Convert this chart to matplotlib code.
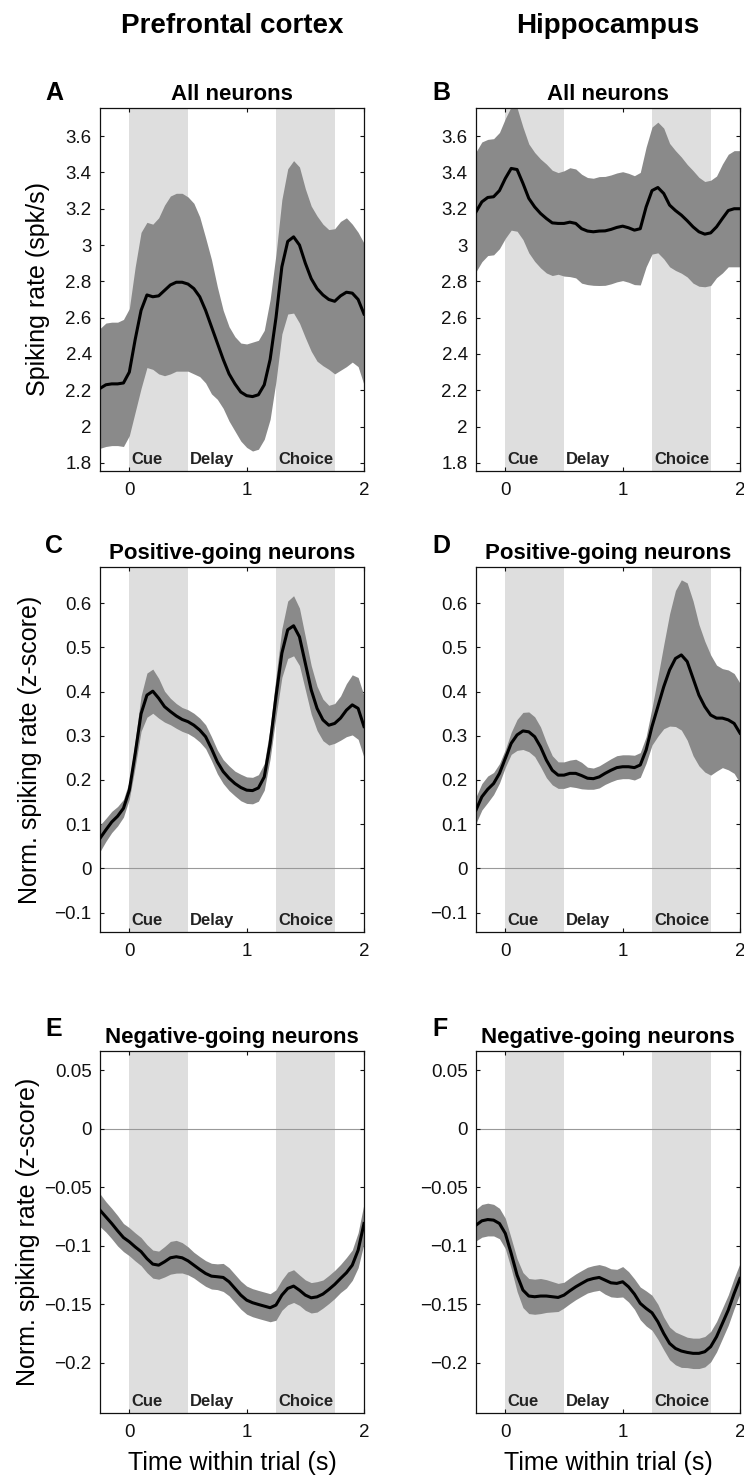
import numpy as np
import matplotlib
matplotlib.use('Agg')
import matplotlib.pyplot as plt
from matplotlib.ticker import FuncFormatter
import matplotlib.transforms as mtransforms

plt.rcParams['font.family'] = ['Liberation Sans', 'DejaVu Sans']

# time axis of the smoothed traces (s)
t = np.linspace(-0.25, 2.0, 46)

# A - prefrontal, all neurons (spk/s)
pfc_all_mean = [2.21, 2.23, 2.235, 2.235, 2.24, 2.30, 2.48, 2.64, 2.725, 2.715,
                2.72, 2.75, 2.78, 2.795, 2.795, 2.785, 2.76, 2.715, 2.64, 2.55,
                2.46, 2.37, 2.29, 2.235, 2.19, 2.17, 2.165, 2.175, 2.23, 2.37,
                2.60, 2.88, 3.02, 3.045, 3.0, 2.90, 2.815, 2.76, 2.725, 2.70,
                2.69, 2.72, 2.74, 2.735, 2.70, 2.62]
pfc_all_sem = [0.33, 0.34, 0.34, 0.34, 0.35, 0.35, 0.40, 0.43, 0.40, 0.40,
               0.43, 0.47, 0.49, 0.49, 0.49, 0.48, 0.47, 0.44, 0.40, 0.37,
               0.31, 0.27, 0.26, 0.26, 0.27, 0.285, 0.30, 0.30, 0.30, 0.33,
               0.35, 0.37, 0.40, 0.42, 0.43, 0.41, 0.40, 0.40, 0.39, 0.385,
               0.40, 0.41, 0.41, 0.38, 0.37, 0.39]

# B - hippocampus, all neurons (spk/s)
hpc_all_mean = [3.183, 3.238, 3.262, 3.266, 3.30, 3.367, 3.422, 3.416, 3.34, 3.257,
                3.21, 3.174, 3.146, 3.122, 3.119, 3.119, 3.126, 3.119, 3.09, 3.077,
                3.073, 3.077, 3.078, 3.086, 3.097, 3.104, 3.095, 3.082, 3.09, 3.21,
                3.30, 3.317, 3.284, 3.22, 3.19, 3.165, 3.134, 3.10, 3.073, 3.06,
                3.067, 3.10, 3.146, 3.19, 3.20, 3.20]
hpc_all_sem = [0.33, 0.33, 0.32, 0.32, 0.32, 0.33, 0.34, 0.34, 0.31, 0.30,
               0.30, 0.30, 0.30, 0.29, 0.28, 0.29, 0.30, 0.30, 0.30, 0.295,
               0.295, 0.30, 0.30, 0.30, 0.30, 0.30, 0.30, 0.30, 0.31, 0.33,
               0.35, 0.36, 0.36, 0.34, 0.33, 0.32, 0.31, 0.31, 0.30, 0.29,
               0.29, 0.28, 0.30, 0.31, 0.32, 0.32]

# C - prefrontal, positive-going (z-score)
pfc_pos_mean = [0.068, 0.087, 0.105, 0.118, 0.136, 0.177, 0.26, 0.35, 0.392, 0.401,
                0.385, 0.366, 0.355, 0.345, 0.337, 0.332, 0.324, 0.313, 0.298, 0.271,
                0.241, 0.219, 0.204, 0.192, 0.183, 0.177, 0.176, 0.182, 0.207, 0.283,
                0.389, 0.487, 0.54, 0.549, 0.524, 0.464, 0.404, 0.362, 0.336, 0.324,
                0.328, 0.34, 0.358, 0.37, 0.362, 0.321]
pfc_pos_sem = [0.03, 0.026, 0.024, 0.022, 0.02, 0.02, 0.03, 0.04, 0.05, 0.05,
               0.045, 0.035, 0.03, 0.028, 0.027, 0.027, 0.027, 0.027, 0.027, 0.027,
               0.027, 0.027, 0.028, 0.028, 0.03, 0.03, 0.03, 0.03, 0.03, 0.035,
               0.045, 0.055, 0.065, 0.068, 0.065, 0.06, 0.055, 0.05, 0.047, 0.045,
               0.045, 0.05, 0.06, 0.068, 0.07, 0.07]

# D - hippocampus, positive-going (z-score)
hpc_pos_mean = [0.132, 0.162, 0.179, 0.192, 0.215, 0.249, 0.283, 0.302, 0.311, 0.309,
                0.298, 0.275, 0.245, 0.222, 0.211, 0.211, 0.215, 0.215, 0.210, 0.204,
                0.203, 0.207, 0.215, 0.222, 0.228, 0.23, 0.23, 0.228, 0.234, 0.268,
                0.321, 0.366, 0.411, 0.449, 0.475, 0.483, 0.468, 0.43, 0.392, 0.366,
                0.347, 0.34, 0.34, 0.336, 0.328, 0.306]
hpc_pos_sem = [0.03, 0.03, 0.03, 0.025, 0.022, 0.02, 0.025, 0.035, 0.042, 0.045,
               0.045, 0.045, 0.04, 0.033, 0.03, 0.03, 0.03, 0.032, 0.03, 0.025,
               0.024, 0.025, 0.025, 0.026, 0.027, 0.027, 0.027, 0.028, 0.028, 0.03,
               0.042, 0.067, 0.095, 0.127, 0.154, 0.17, 0.178, 0.175, 0.16, 0.148,
               0.136, 0.12, 0.112, 0.113, 0.113, 0.113]

# E - prefrontal, negative-going (z-score)
pfc_neg_mean = [-0.0696, -0.0753, -0.081, -0.0872, -0.093, -0.0966, -0.101, -0.105, -0.111, -0.1157,
                -0.1166, -0.1137, -0.1103, -0.1094, -0.1103, -0.1129, -0.1166, -0.1203, -0.1237, -0.126,
                -0.1265, -0.1271, -0.1308, -0.1365, -0.1422, -0.1465, -0.1487, -0.1502, -0.1516, -0.153,
                -0.1507, -0.1422, -0.1365, -0.1345, -0.138, -0.1422, -0.1445, -0.1437, -0.1413, -0.1374,
                -0.1331, -0.128, -0.1231, -0.1166, -0.1038, -0.081]
pfc_neg_sem = [0.014, 0.013, 0.013, 0.013, 0.012, 0.012, 0.012, 0.012, 0.012, 0.012,
               0.012, 0.013, 0.014, 0.014, 0.013, 0.012, 0.011, 0.011, 0.011, 0.011,
               0.011, 0.012, 0.012, 0.012, 0.012, 0.012, 0.012, 0.012, 0.012, 0.012,
               0.013, 0.013, 0.014, 0.014, 0.013, 0.013, 0.013, 0.013, 0.012, 0.012,
               0.012, 0.012, 0.013, 0.013, 0.015, 0.017]

# F - hippocampus, negative-going (z-score)
hpc_neg_mean = [-0.0824, -0.0787, -0.0776, -0.0781, -0.081, -0.0895, -0.1066, -0.1251, -0.1379, -0.143,
                -0.1436, -0.143, -0.143, -0.1436, -0.1442, -0.1422, -0.1385, -0.1351, -0.1322, -0.1294,
                -0.128, -0.1271, -0.1294, -0.1317, -0.1322, -0.1308, -0.1351, -0.1413, -0.1493, -0.1536,
                -0.1573, -0.165, -0.175, -0.1835, -0.1878, -0.19, -0.1912, -0.192, -0.192, -0.1906,
                -0.1863, -0.1778, -0.1664, -0.155, -0.1408, -0.128]
hpc_neg_sem = [0.0135, 0.014, 0.014, 0.0135, 0.013, 0.013, 0.013, 0.014, 0.015, 0.015,
               0.015, 0.015, 0.014, 0.013, 0.012, 0.011, 0.011, 0.011, 0.011, 0.011,
               0.011, 0.011, 0.012, 0.012, 0.012, 0.013, 0.013, 0.013, 0.014, 0.015,
               0.015, 0.015, 0.014, 0.014, 0.014, 0.014, 0.013, 0.013, 0.013, 0.013,
               0.013, 0.013, 0.013, 0.013, 0.013, 0.013]

column_titles = ['Prefrontal cortex', 'Hippocampus']
row_titles = ['All neurons', 'Positive-going neurons', 'Negative-going neurons']
panel_letters = [['A', 'B'], ['C', 'D'], ['E', 'F']]
row_ylabels = ['Spiking rate (spk/s)', 'Norm. spiking rate (z-score)', 'Norm. spiking rate (z-score)']
row_ylims = [(1.755, 3.755), (-0.144, 0.682), (-0.243, 0.0665)]
row_yticks = [[1.8, 2, 2.2, 2.4, 2.6, 2.8, 3, 3.2, 3.4, 3.6],
              [-0.1, 0, 0.1, 0.2, 0.3, 0.4, 0.5, 0.6],
              [-0.2, -0.15, -0.1, -0.05, 0, 0.05]]
epochs = [('Cue', 0.0, 0.5), ('Delay', 0.5, 1.25), ('Choice', 1.25, 1.75)]

traces = [[(pfc_all_mean, pfc_all_sem), (hpc_all_mean, hpc_all_sem)],
          [(pfc_pos_mean, pfc_pos_sem), (hpc_pos_mean, hpc_pos_sem)],
          [(pfc_neg_mean, pfc_neg_sem), (hpc_neg_mean, hpc_neg_sem)]]

W, H = 744, 1475
col_left = [100, 476]
row_top = [108, 567, 1051]
row_h = [363, 365, 362]
ax_w = 264
ylabel_x = [-0.189, -0.22, -0.227]


def matlab_fmt(v, pos):
    if abs(v) < 1e-9:
        return '0'
    return f'{round(v, 6):g}'.replace('-', '\u2212')


fig = plt.figure(figsize=(W / 100, H / 100), dpi=100)

for c, name in enumerate(column_titles):
    fig.text((col_left[c] + ax_w / 2) / W, 1 - 33 / H, name, ha='center',
             va='baseline', fontsize=20, fontweight='bold')

letter_x = [45, 432]
letter_base = [100, 553, 1036]

for r in range(3):
    for c in range(2):
        ax = fig.add_axes([col_left[c] / W, 1 - (row_top[r] + row_h[r]) / H,
                           ax_w / W, row_h[r] / H])
        mean = np.array(traces[r][c][0])
        sem = np.array(traces[r][c][1])

        # task epochs
        ax.axvspan(0, 0.5, color='#dedede', lw=0, zorder=0)
        ax.axvspan(1.25, 1.75, color='#dedede', lw=0, zorder=0)
        if r > 0:
            ax.axhline(0, color='#999999', lw=0.8, zorder=1)

        ax.fill_between(t, mean - sem, mean + sem, color='#8a8a8a', lw=0, zorder=2)
        ax.plot(t, mean, color='black', lw=2.2, zorder=3)

        ax.set_xlim(-0.25, 2.0)
        ax.set_ylim(*row_ylims[r])
        ax.set_xticks([0, 1, 2])
        ax.set_yticks(row_yticks[r])
        ax.xaxis.set_major_formatter(FuncFormatter(matlab_fmt))
        ax.yaxis.set_major_formatter(FuncFormatter(matlab_fmt))
        ax.tick_params(direction='in', top=True, right=True, length=3, width=0.8,
                       labelsize=13.5, colors='#111111')
        ax.tick_params(axis='x', pad=8)
        ax.tick_params(axis='y', pad=6)
        for sp in ax.spines.values():
            sp.set_linewidth(0.9)
            sp.set_color('#111111')

        trans = mtransforms.blended_transform_factory(ax.transData, ax.transAxes)
        for label, start, end in epochs:
            ax.text(start + 0.02, 0.019, label, transform=trans, fontsize=12,
                    fontweight='bold', va='baseline', ha='left', color='#222222',
                    zorder=4)

        ax.set_title(row_titles[r], fontsize=16, fontweight='bold', pad=5.5)
        fig.text(letter_x[c] / W, 1 - letter_base[r] / H, panel_letters[r][c],
                 fontsize=18, fontweight='bold', va='baseline')

        if c == 0:
            ax.set_ylabel(row_ylabels[r], fontsize=18)
            ax.yaxis.set_label_coords(ylabel_x[r], 0.5)
        if r == 2:
            ax.set_xlabel('Time within trial (s)', fontsize=18)
            ax.xaxis.set_label_coords(0.5, -0.105)

fig.savefig('out.png', dpi=100)
